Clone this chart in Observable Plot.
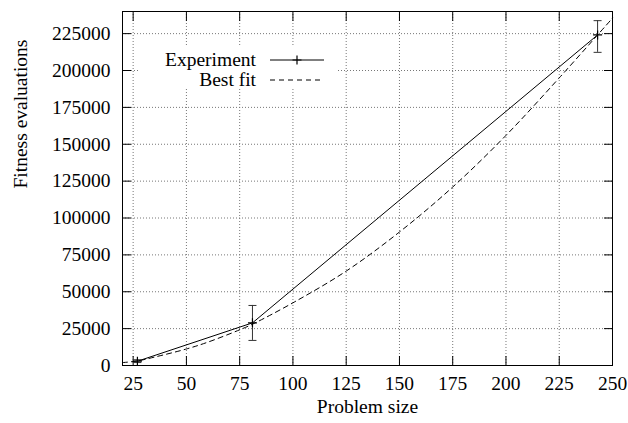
<!DOCTYPE html>
<html>
<head>
<meta charset="utf-8">
<script src="https://cdn.jsdelivr.net/npm/d3@7"></script>
<script src="https://cdn.jsdelivr.net/npm/@observablehq/plot@0.6"></script>
<style>
  html, body { margin: 0; padding: 0; background: white; font-family: "Liberation Serif", serif; }
</style>
</head>
<body>
<div id="chart"></div>
<script>
// Experiment data
const problemSize = [27, 81, 243];
const evaluations = [2900, 28900, 224100];
const errLow = [2000, 17000, 212300];
const errHigh = [3900, 40700, 233800];

// Best fit curve
const fitX = [20, 27, 35, 50, 60, 75, 81, 100, 125, 150, 175, 200, 225, 250];
const fitY = [1960, 3100, 5700, 11200, 15800, 24200, 28000, 42500, 64000, 90500, 121000, 156000, 195000, 235500];

// Tick labels
const xTicks = [25, 50, 75, 100, 125, 150, 175, 200, 225, 250];
const yTicks = [0, 25000, 50000, 75000, 100000, 125000, 150000, 175000, 200000, 225000];

const seriesNames = ["Experiment", "Best fit"];

const exp = problemSize.map((x, i) => ({x, y: evaluations[i], lo: errLow[i], hi: errHigh[i]}));
const fit = fitX.map((x, i) => ({x, y: fitY[i]}));

const capSym = {draw(ctx) { ctx.moveTo(-4, 0); ctx.lineTo(4, 0); }};
const plusSym = {draw(ctx) { ctx.moveTo(-4.5, 0); ctx.lineTo(4.5, 0); ctx.moveTo(0, -4.5); ctx.lineTo(0, 4.5); }};

const FS = 19.5;

const chart = Plot.plot({
  width: 628,
  height: 423,
  marginLeft: 122,
  marginRight: 16,
  marginTop: 11,
  marginBottom: 58,
  style: "font-family: 'Liberation Serif', serif; font-size: 19.5px; background: white; color: black;",
  x: {domain: [20, 250], label: null},
  y: {domain: [0, 240000], label: null},
  marks: [
    Plot.gridX(xTicks, {stroke: "#777", strokeOpacity: 1, strokeDasharray: "1,2"}),
    Plot.gridY(yTicks, {stroke: "#777", strokeOpacity: 1, strokeDasharray: "1,2"}),
    Plot.axisX(xTicks, {tickSize: 0, tickPadding: 11, fontSize: FS, label: null, tickFormat: d3.format("d")}),
    Plot.axisY(yTicks, {tickSize: 0, tickPadding: 12, fontSize: FS, label: null, tickFormat: d3.format("d")}),
    Plot.axisX(xTicks, {anchor: "bottom", tickSize: -9, fill: "none", label: null}),
    Plot.axisX(xTicks, {anchor: "top", tickSize: -9, fill: "none", label: null}),
    Plot.axisY(yTicks, {anchor: "left", tickSize: -9, fill: "none", label: null}),
    Plot.axisY(yTicks, {anchor: "right", tickSize: -9, fill: "none", label: null}),
    Plot.line(fit, {x: "x", y: "y", stroke: "black", strokeWidth: 1, strokeDasharray: "5,4", curve: "catmull-rom"}),
    Plot.line(exp, {x: "x", y: "y", stroke: "black", strokeWidth: 1}),
    Plot.ruleX(exp, {x: "x", y1: "lo", y2: "hi", stroke: "#333", strokeWidth: 1}),
    Plot.dot(exp, {x: "x", y: "lo", symbol: capSym, stroke: "#333", fill: "none", strokeWidth: 1}),
    Plot.dot(exp, {x: "x", y: "hi", symbol: capSym, stroke: "#333", fill: "none", strokeWidth: 1}),
    Plot.dot(exp, {x: "x", y: "y", symbol: plusSym, stroke: "black", fill: "none", strokeWidth: 1.2}),
    Plot.frame({stroke: "black", strokeWidth: 1}),
    Plot.text(["Problem size"], {frameAnchor: "bottom", dy: 47, fontSize: FS, fill: "black"}),
    Plot.text(["Fitness evaluations"], {frameAnchor: "left", dx: -102, rotate: -90, fontSize: FS, fill: "black"})
  ]
});

document.getElementById("chart").appendChild(chart);

// Legend (inside plot, top-left)
const svg = d3.select(chart);
const lg = svg.append("g").attr("font-size", FS);
lg.append("rect").attr("x", 138).attr("y", 45).attr("width", 198).attr("height", 44).attr("fill", "white");
const rows = [
  {name: seriesNames[0], y: 60, dash: null, plus: true},
  {name: seriesNames[1], y: 80, dash: "5,4", plus: false}
];
rows.forEach(r => {
  lg.append("text").attr("x", 256).attr("y", r.y + 5.8).attr("text-anchor", "end")
    .attr("fill", "black").text(r.name);
  const l = lg.append("line").attr("x1", 270).attr("x2", 324).attr("y1", r.y).attr("y2", r.y)
    .attr("stroke", "black").attr("stroke-width", 1);
  if (r.dash) l.attr("stroke-dasharray", r.dash);
  if (r.plus) {
    lg.append("path").attr("d", `M${297 - 4.5},${r.y}h9M297,${r.y - 4.5}v9`)
      .attr("stroke", "black").attr("stroke-width", 1.2).attr("fill", "none");
  }
});
</script>
</body>
</html>
